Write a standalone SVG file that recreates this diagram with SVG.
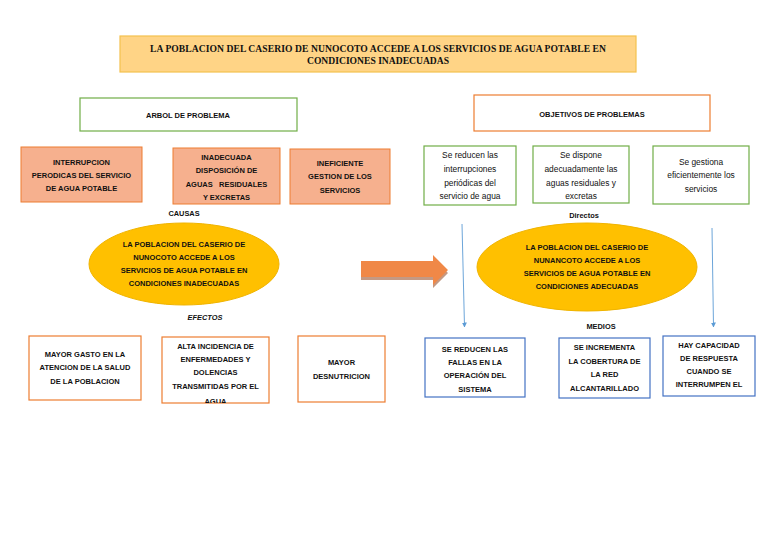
<svg xmlns="http://www.w3.org/2000/svg" width="768" height="543" viewBox="0 0 768 543">
<style>
text{font-family:"Liberation Sans",Arial,sans-serif;text-anchor:middle;dominant-baseline:central;fill:#111}
.b{font-weight:bold;font-size:7.5px}
.n{font-size:8.4px}
.title{font-family:"Liberation Serif","Times New Roman",serif;font-weight:bold;font-size:9.6px}
.cause{fill:#F6B08E;stroke:#ED7D31;stroke-width:1}
.eff{fill:#fff;stroke:#ED7D31;stroke-width:1.2}
.grn{fill:#fff;stroke:#70AD47;stroke-width:1.2}
.blu{fill:#fff;stroke:#4472C4;stroke-width:1.2}
.ell{fill:#FFC000;stroke:#F0B400;stroke-width:1}
.lbl{font-size:7.4px;font-weight:bold}
.thin{stroke:#5B9BD5;stroke-width:0.9;fill:none;marker-end:url(#ah)}
</style>
<defs>
<marker id="ah" viewBox="0 0 10 10" refX="9" refY="5" markerWidth="5" markerHeight="5" orient="auto" markerUnits="userSpaceOnUse">
<path d="M0,0 L10,5 L0,10 z" fill="#5B9BD5"/>
</marker>
<clipPath id="c2"><rect x="162" y="337" width="107" height="66"/></clipPath>
</defs>
<rect width="768" height="543" fill="#fff"/>

<g id="title">
<rect x="120" y="36" width="516" height="36" fill="#FFD486" stroke="#F4C14F" stroke-width="1.2"/>
<text class="title" x="378" y="48" textLength="456" lengthAdjust="spacing">LA POBLACION DEL CASERIO DE NUNOCOTO ACCEDE A LOS SERVICIOS DE AGUA POTABLE EN</text>
<text class="title" x="378" y="60">CONDICIONES INADECUADAS</text>
</g>

<g id="arbol">
<rect x="80" y="98" width="217" height="33" fill="#fff" stroke="#70AD47" stroke-width="1.2"/>
<text class="b" x="188" y="115">ARBOL DE PROBLEMA</text>
</g>
<g id="objetivos">
<rect x="474" y="95" width="236" height="36" fill="#fff" stroke="#ED7D31" stroke-width="1.2"/>
<text class="b" x="592" y="114">OBJETIVOS DE PROBLEMAS</text>
</g>

<g id="causa1">
<rect class="cause" x="21" y="147" width="121" height="55"/>
<text class="b" x="81.5" y="162">INTERRUPCION</text>
<text class="b" x="81.5" y="175">PERODICAS DEL SERVICIO</text>
<text class="b" x="81.5" y="188">DE AGUA POTABLE</text>
</g>
<g id="causa2">
<rect class="cause" x="173" y="148" width="107" height="56"/>
<text class="b" x="226.5" y="157">INADECUADA</text>
<text class="b" x="226.5" y="170">DISPOSICIÓN DE</text>
<text class="b" x="226.5" y="184" xml:space="preserve">AGUAS   RESIDUALES</text>
<text class="b" x="226.5" y="197">Y EXCRETAS</text>
</g>
<g id="causa3">
<rect class="cause" x="290" y="149" width="100" height="55"/>
<text class="b" x="340" y="163">INEFICIENTE</text>
<text class="b" x="340" y="176">GESTION DE LOS</text>
<text class="b" x="340" y="190">SERVICIOS</text>
</g>
<text class="lbl" x="184" y="213">CAUSAS</text>

<g id="problema">
<ellipse class="ell" cx="184" cy="264" rx="95" ry="41"/>
<text class="b" x="184" y="244">LA POBLACION DEL CASERIO DE</text>
<text class="b" x="184" y="257">NUNOCOTO ACCEDE A LOS</text>
<text class="b" x="184" y="270">SERVICIOS DE AGUA POTABLE EN</text>
<text class="b" x="184" y="283">CONDICIONES INADECUADAS</text>
</g>
<text class="lbl" x="205" y="317" font-style="italic" font-weight="normal">EFECTOS</text>

<g id="efecto1">
<rect class="eff" x="29" y="336" width="112" height="64"/>
<text class="b" x="85" y="354">MAYOR GASTO EN LA</text>
<text class="b" x="85" y="367">ATENCION DE LA SALUD</text>
<text class="b" x="85" y="381">DE LA POBLACION</text>
</g>
<g id="efecto2">
<rect class="eff" x="162" y="337" width="107" height="66"/>
<g clip-path="url(#c2)">
<text class="b" x="215.5" y="346">ALTA INCIDENCIA DE</text>
<text class="b" x="215.5" y="359">ENFERMEDADES Y</text>
<text class="b" x="215.5" y="372">DOLENCIAS</text>
<text class="b" x="215.5" y="386">TRANSMITIDAS POR EL</text>
<text class="b" x="215.5" y="401.5">AGUA</text>
</g>
</g>
<g id="efecto3">
<rect class="eff" x="298" y="336" width="87" height="66"/>
<text class="b" x="341.5" y="362">MAYOR</text>
<text class="b" x="341.5" y="376">DESNUTRICION</text>
</g>

<g id="obj1">
<rect class="grn" x="424" y="146" width="92" height="59"/>
<text class="n" x="470" y="155">Se reducen las</text>
<text class="n" x="470" y="169">interrupciones</text>
<text class="n" x="470" y="183">periódicas del</text>
<text class="n" x="470" y="196">servicio de agua</text>
</g>
<g id="obj2">
<rect class="grn" x="533" y="146" width="96" height="57"/>
<text class="n" x="581" y="155">Se dispone</text>
<text class="n" x="581" y="169">adecuadamente las</text>
<text class="n" x="581" y="183">aguas residuales y</text>
<text class="n" x="581" y="196">excretas</text>
</g>
<g id="obj3">
<rect class="grn" x="653" y="146" width="96" height="58"/>
<text class="n" x="701" y="162">Se gestiona</text>
<text class="n" x="701" y="175">eficientemente los</text>
<text class="n" x="701" y="189">servicios</text>
</g>
<text class="lbl" x="584" y="215" font-weight="normal">Directos</text>

<g id="objetivo">
<ellipse class="ell" cx="587" cy="267" rx="110" ry="44"/>
<text class="b" x="587" y="247">LA POBLACION DEL CASERIO DE</text>
<text class="b" x="587" y="260">NUNANCOTO ACCEDE A LOS</text>
<text class="b" x="587" y="273">SERVICIOS DE AGUA POTABLE EN</text>
<text class="b" x="587" y="286">CONDICIONES ADECUADAS</text>
</g>
<text class="lbl" x="601" y="326">MEDIOS</text>

<g id="medio1">
<rect class="blu" x="425" y="338" width="100" height="59"/>
<text class="b" x="475" y="349">SE REDUCEN LAS</text>
<text class="b" x="475" y="362">FALLAS EN LA</text>
<text class="b" x="475" y="375">OPERACIÓN DEL</text>
<text class="b" x="475" y="389">SISTEMA</text>
</g>
<g id="medio2">
<rect class="blu" x="559" y="338" width="91" height="60"/>
<text class="b" x="604.5" y="347">SE INCREMENTA</text>
<text class="b" x="604.5" y="361">LA COBERTURA DE</text>
<text class="b" x="604.5" y="374">LA RED</text>
<text class="b" x="604.5" y="388">ALCANTARILLADO</text>
</g>
<g id="medio3">
<rect class="blu" x="663" y="336" width="92" height="60"/>
<text class="b" x="709" y="345">HAY CAPACIDAD</text>
<text class="b" x="709" y="358">DE RESPUESTA</text>
<text class="b" x="709" y="371">CUANDO SE</text>
<text class="b" x="709" y="384">INTERRUMPEN EL</text>
</g>

<g id="connectors">
<polygon points="361,264 433,264 433,258 448,273 433,288 433,280 361,280" fill="#9C5530" opacity="0.6"/>
<polygon points="361,261 433,261 433,255 448,270 433,285 433,277 361,277" fill="#F08847"/>
<path class="thin" d="M462,224 L464.5,327"/>
<path class="thin" d="M712,228 L713.5,327"/>
</g>
</svg>
